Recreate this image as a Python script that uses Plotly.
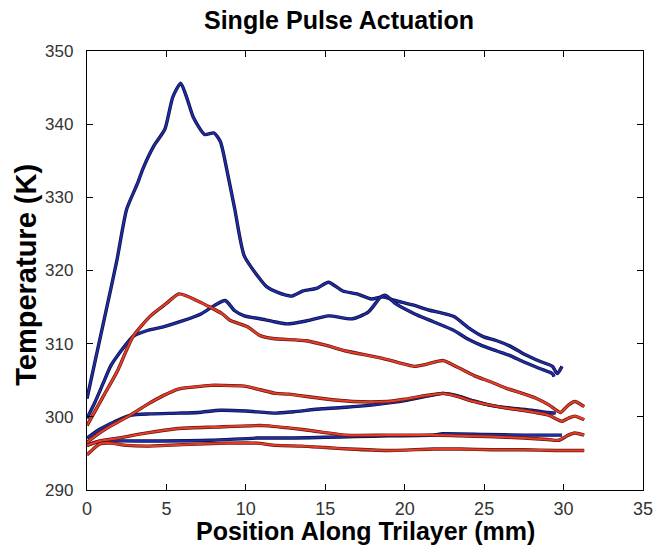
import plotly.graph_objects as go

# Temperature profiles along the trilayer (position in mm, temperature in K)
b1_x = [0, 0.5, 1.0, 1.5, 1.9, 2.5, 3.2, 3.5, 4.2, 4.9, 5.4, 5.9, 6.3, 6.7, 7.4, 8.0, 8.4, 8.8,
        9.3, 9.9, 10.9, 11.3, 12.0, 12.9, 13.6, 14.5, 15.2, 16.1, 17.0, 17.9, 18.6, 19.4, 20.5,
        21.5, 22.3, 23.1, 24.0, 24.9, 25.8, 26.6, 27.5, 28.5, 29.3, 29.6, 29.9]
b1_y = [302.5, 307.5, 312.5, 317.5, 321.6, 328.4, 332.0, 333.8, 337.0, 339.3, 343.7, 345.6, 343.5,
        340.9, 338.6, 338.8, 337.6, 333.8, 328.4, 322.0, 318.8, 317.8, 317.0, 316.5, 317.2, 317.6,
        318.4, 317.2, 316.8, 316.1, 316.4, 315.9, 315.3, 314.6, 314.2, 313.7, 312.2, 311.0, 310.4,
        309.7, 308.6, 307.6, 306.9, 305.9, 306.9]

b2_x = [0, 0.5, 1.0, 1.5, 2.0, 2.9, 3.8, 4.8, 6.0, 7.2, 8.0, 8.7, 9.3, 9.9, 10.9, 11.8, 12.6,
        13.8, 15.2, 16.7, 17.7, 18.5, 18.8, 19.4, 20.6, 21.8, 23.1, 24.0, 24.9, 25.8, 26.6, 27.5,
        28.5, 29.3, 29.4]
b2_y = [299.8, 302.0, 304.5, 307.0, 308.6, 311.0, 311.8, 312.3, 313.1, 314.1, 315.2, 315.9, 314.5,
        313.8, 313.4, 313.0, 312.7, 313.1, 313.8, 313.4, 314.3, 316.4, 316.6, 315.5, 314.1, 313.0,
        311.8, 310.6, 309.7, 309.0, 308.4, 307.5, 306.6, 305.9, 305.5]

b3_x = [0, 0.8, 1.7, 2.7, 4.0, 5.75, 7.0, 8.4, 10.0, 11.9, 13.0, 14.8, 16.3, 17.9, 19.0, 20.2,
        21.6, 22.4, 23.3, 24.3, 25.3, 26.6, 28.0, 29.0, 29.5]
b3_y = [297.1, 298.3, 299.3, 300.2, 300.4, 300.5, 300.6, 300.9, 300.8, 300.5, 300.7, 301.1, 301.3,
        301.6, 301.9, 302.3, 302.9, 303.2, 302.9, 302.2, 301.6, 301.2, 300.9, 300.6, 300.5]

b4_x = [0, 0.5, 1.6, 4.0, 7.8, 10.7, 13.0, 15.0, 16.9, 19.0, 21.8, 22.4, 25.0, 27.5, 29.9]
b4_y = [296.1, 296.5, 296.7, 296.7, 296.8, 297.1, 297.1, 297.2, 297.3, 297.4, 297.5, 297.7, 297.6,
        297.5, 297.5]

r1_x = [0, 1.05, 1.9, 2.9, 4.0, 5.0, 5.8, 7.0, 8.5, 9.0, 10.1, 10.9, 11.7, 13.8, 15.0, 16.3, 18.6,
        20.6, 21.4, 22.4, 23.3, 24.4, 25.4, 26.4, 27.4, 28.3, 29.1, 29.8, 30.3, 30.7, 31.3]
r1_y = [298.8, 302.9, 306.2, 311.0, 313.8, 315.5, 316.8, 315.8, 314.1, 313.2, 312.3, 311.1, 310.7,
        310.4, 309.8, 309.0, 308.0, 306.9, 307.2, 307.7, 306.8, 305.6, 304.8, 303.9, 303.2, 302.5,
        301.6, 300.6, 301.6, 302.1, 301.4]

r2_x = [0, 0.8, 1.7, 2.7, 3.8, 4.8, 5.75, 6.8, 7.8, 8.5, 9.9, 10.9, 11.9, 12.7, 14.8, 16.7, 18.9,
        20.0, 21.0, 22.4, 23.3, 24.3, 25.4, 26.4, 27.4, 28.2, 29.1, 29.9, 30.3, 30.7, 31.3]
r2_y = [296.5, 297.8, 299.0, 300.2, 301.7, 302.9, 303.8, 304.1, 304.3, 304.3, 304.2, 303.7, 303.2,
        303.1, 302.5, 302.1, 302.1, 302.4, 302.8, 303.2, 302.8, 302.1, 301.6, 301.2, 300.9, 300.6,
        300.2, 299.4, 299.8, 300.1, 299.6]

r3_x = [0, 0.8, 2.0, 3.5, 5.75, 8.0, 11.1, 13.8, 16.3, 18.9, 21.8, 23.5, 25.3, 27.5, 29.0, 29.7,
        30.3, 30.7, 31.3]
r3_y = [296.1, 296.7, 297.1, 297.7, 298.4, 298.6, 298.8, 298.2, 297.5, 297.5, 297.5, 297.4, 297.3,
        297.1, 296.9, 296.8, 297.5, 297.8, 297.5]

r4_x = [0, 0.4, 0.8, 1.5, 2.5, 3.7, 6.0, 8.8, 10.7, 11.9, 13.5, 15.0, 16.5, 18.9, 21.8, 23.5,
        25.5, 27.5, 29.5, 31.3]
r4_y = [294.8, 295.6, 296.3, 296.4, 296.1, 296.0, 296.2, 296.4, 296.4, 296.1, 296.0, 295.8, 295.6,
        295.4, 295.6, 295.6, 295.5, 295.5, 295.4, 295.4]

x_ticks = [0, 5, 10, 15, 20, 25, 30, 35]
y_ticks = [290, 300, 310, 320, 330, 340, 350]

BLUE = "#1f2ca3"
BLUE_EDGE = "#0b0f3e"
RED = "#ea3a28"
RED_EDGE = "#5a1a12"

series = [
    (b1_x, b1_y, BLUE, BLUE_EDGE),
    (b2_x, b2_y, BLUE, BLUE_EDGE),
    (b3_x, b3_y, BLUE, BLUE_EDGE),
    (b4_x, b4_y, BLUE, BLUE_EDGE),
    (r1_x, r1_y, RED, RED_EDGE),
    (r2_x, r2_y, RED, RED_EDGE),
    (r3_x, r3_y, RED, RED_EDGE),
    (r4_x, r4_y, RED, RED_EDGE),
]

fig = go.Figure()
for xs, ys, col, edge in series:
    # darker underlay gives the ink-edged look of the traces
    fig.add_trace(go.Scatter(x=xs, y=ys, mode="lines",
                             line=dict(color=edge, width=3.4, shape="spline", smoothing=0.6),
                             hoverinfo="skip", showlegend=False))
    fig.add_trace(go.Scatter(x=xs, y=ys, mode="lines",
                             line=dict(color=col, width=2.0, shape="spline", smoothing=0.6),
                             showlegend=False))

axis_common = dict(
    showgrid=False, zeroline=False, showline=True, linecolor="black", linewidth=1.3,
    mirror="ticks", ticks="inside", ticklen=6, tickcolor="black", tickwidth=1.2,
)

fig.update_xaxes(range=[0, 35], tickvals=x_ticks, ticktext=[str(v) for v in x_ticks],
                 tickfont=dict(family="Liberation Sans Narrow, Liberation Sans", size=18, color="#333"),
                 ticklabelstandoff=2, ticklabeloverflow="allow", **axis_common)
fig.update_yaxes(range=[290, 350], tickvals=y_ticks, ticktext=[str(v) for v in y_ticks],
                 tickfont=dict(family="Liberation Sans Narrow, Liberation Sans", size=17, color="#333"),
                 ticklabelstandoff=9, **axis_common)

title_font = dict(family="Liberation Sans, Arial, sans-serif", size=25, color="black", weight="bold")
fig.add_annotation(text="Single Pulse Actuation", xref="paper", yref="paper", x=0.454, y=1.07,
                   xanchor="center", yanchor="middle", showarrow=False, font=title_font)
fig.add_annotation(text="Position Along Trilayer (mm)", xref="paper", yref="paper", x=0.5, y=-0.094,
                   xanchor="center", yanchor="middle", showarrow=False, font=dict(title_font, size=25))
fig.add_annotation(text="Temperature (K)", xref="paper", yref="paper", x=-0.11, y=0.49,
                   xanchor="center", yanchor="middle", textangle=-90, showarrow=False,
                   font=dict(title_font, size=29))

fig.update_layout(
    width=665, height=548,
    margin=dict(l=87, r=12, t=51, b=58),
    paper_bgcolor="white", plot_bgcolor="white",
)

fig.write_html("out.html")
